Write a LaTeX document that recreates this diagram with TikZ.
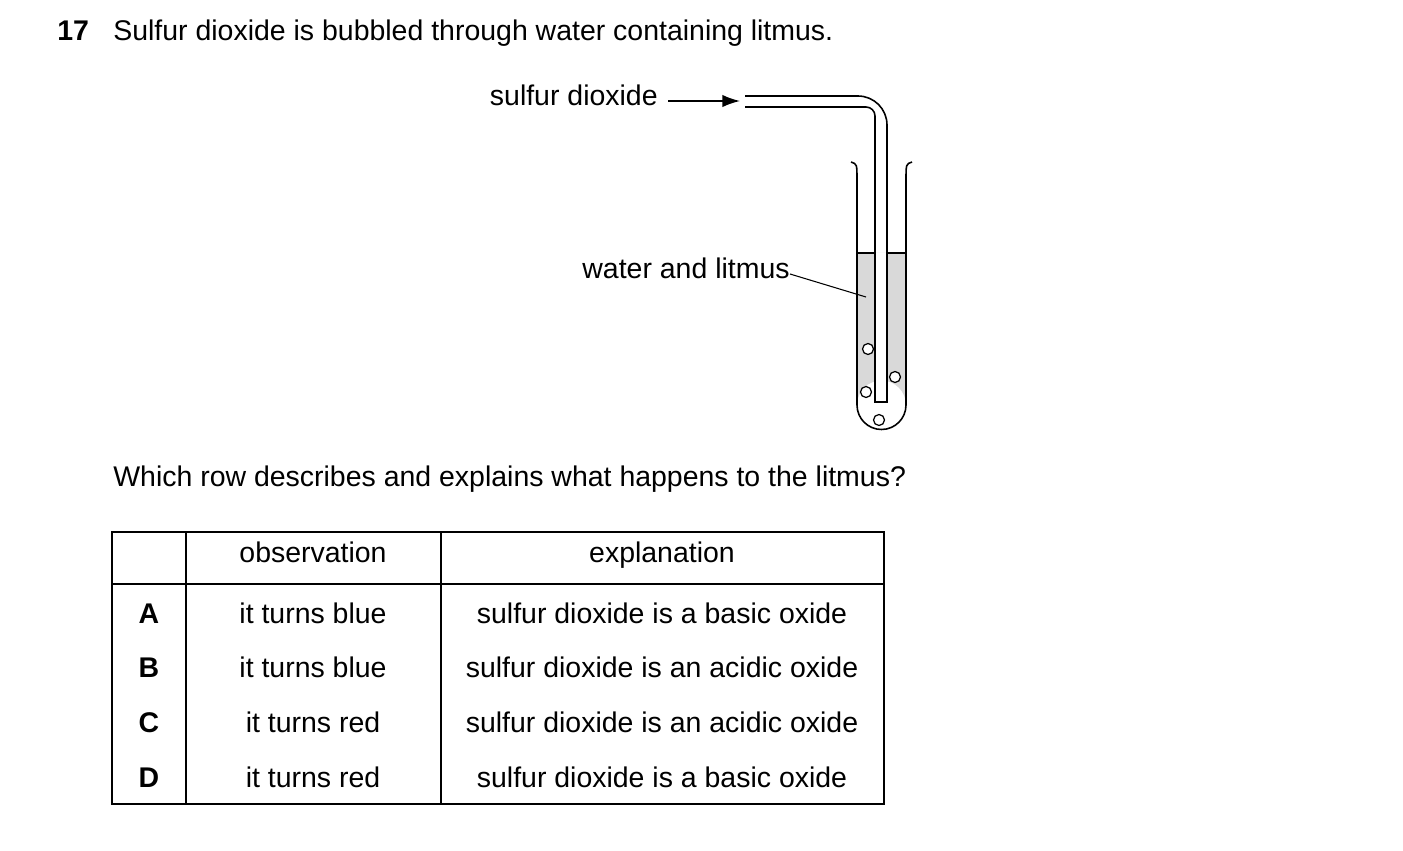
\documentclass[tikz,border=0pt]{standalone}
\usepackage{fontspec}
\setmainfont{Liberation Sans}
\usetikzlibrary{arrows.meta}
\begin{document}
\begin{tikzpicture}[x=0.02cm,y=-0.02cm,
  txt/.style={font=\fontsize{16.2}{19}\selectfont,inner sep=0pt,text height=0.72em,text depth=0.2em},
  wall/.style={line width=0.9pt},
  bubble/.style={draw,fill=white,line width=0.7pt}]
   \useasboundingbox (0,0) rectangle (1403,851);
   \node[txt,anchor=west,font=\fontsize{16.2}{19}\selectfont\bfseries] (num) at (57,36) {17};
   \node[txt,anchor=west] (q) at (113,36) {Sulfur dioxide is bubbled through water containing litmus.};

   % liquid
   \fill[gray!30] (857,253) -- (857,405) arc (180:0:24.5 and -24.5) -- (906,253) -- cycle;
   \fill[white] (875,253) rectangle (887,402);
   \draw[wall] (857,253) -- (875,253) (887,253) -- (906,253);
   % test tube
   \draw[wall] (851,162) .. controls (857,164) .. (857,180) -- (857,405)
        arc (180:360:24.5 and -24.5) -- (906,180) .. controls (906,164) .. (912,162);
   % delivery tube
   \draw[wall] (745,96) -- (858,96) arc (90:0:29 and -29) -- (887,402) -- (875,402)
        -- (875,116) arc (0:90:9 and -9) -- (745,107);
   \foreach \p in {(868,349),(895,377),(866,392),(879,420)}
     \draw[bubble] \p circle (5.5);

   \node[txt,anchor=east] (gas) at (658,101) {sulfur dioxide};
   \coordinate (inlet) at (740,101);
   \draw[-{Latex[length=10pt,width=7pt]},line width=0.9pt] (668,101) -- (inlet);
   \node[txt,anchor=east] (liq) at (790,274) {water and litmus};
   \coordinate (liqpt) at (866,297);
   \draw[line width=0.6pt] (liq.east) -- (liqpt);

   \node[txt,anchor=west] (ask) at (113,482) {Which row describes and explains what happens to the litmus?};

   % table
   \draw[line width=0.8pt] (112,532) rectangle (884,804);
   \draw[line width=0.8pt] (112,584) -- (884,584) (186,532) -- (186,804) (441,532) -- (441,804);
   \node[txt] (h1) at (313,558) {observation};
   \node[txt] (h2) at (662,558) {explanation};
   \foreach \y/\l/\o/\e in {619/A/it turns blue/sulfur dioxide is a basic oxide,
                          673/B/it turns blue/sulfur dioxide is an acidic oxide,
                          728/C/it turns red/sulfur dioxide is an acidic oxide,
                          783/D/it turns red/sulfur dioxide is a basic oxide} {
     \node[txt,font=\fontsize{16.2}{19}\selectfont\bfseries] (r\l) at (149,\y) {\l};
     \node[txt] (o\l) at (313,\y) {\o};
     \node[txt] (e\l) at (662,\y) {\e};
   }
\end{tikzpicture}
\end{document}
